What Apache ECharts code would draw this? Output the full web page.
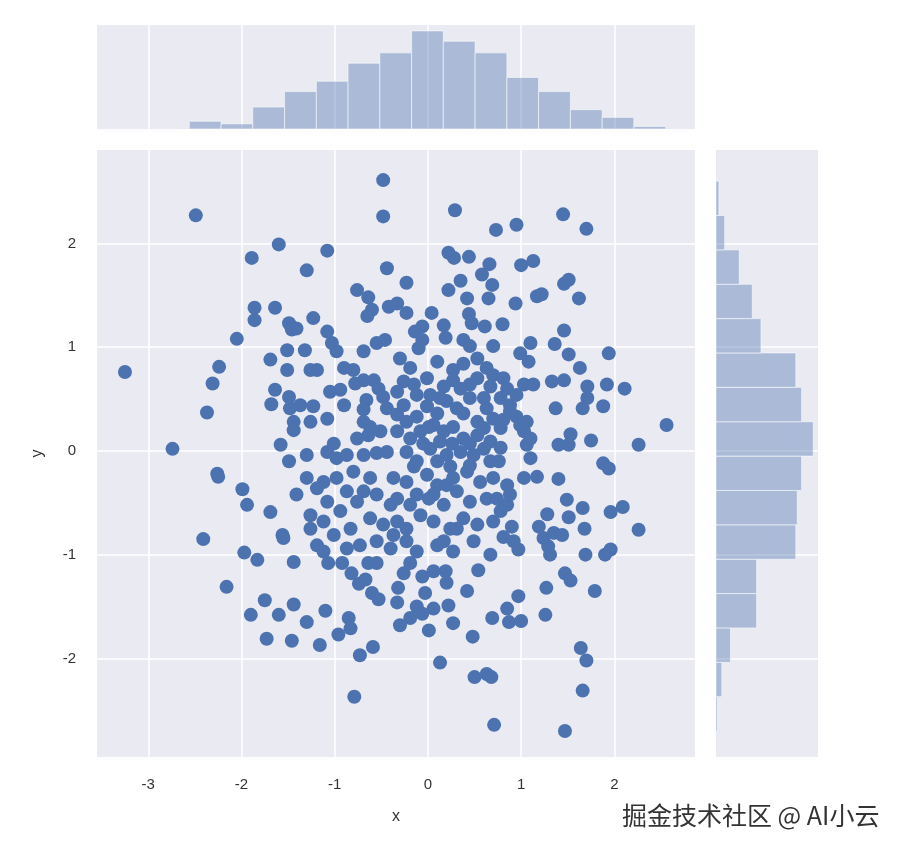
<!DOCTYPE html>
<html><head><meta charset="utf-8">
<script src="https://cdn.jsdelivr.net/npm/echarts@6/dist/echarts.min.js"></script>
<style>html,body{margin:0;padding:0;background:#fff}#c{width:906px;height:854px}</style>
</head><body><div id="c"></div><script>
// scatter points (x, y)
const xs = [
-2.49,-1.60,-1.89,-1.86,-1.64,-1.86,-1.49,-1.46,-2.05,-1.51,
-0.48,-0.48,0.29,0.73,-1.08,-1.30,-0.44,-0.23,-0.76,-0.64,-0.60,-0.65,-0.42,-0.33,-0.23,0.04,0.22,0.28,0.44,0.66,0.58,0.35,0.22,0.42,0.69,0.65,0.44,0.47,0.61,0.17,0.19,-0.06,-0.14,-0.06,-0.10,0.38,0.45,-1.23,-1.41,-1.08,-1.03,-1.32,-0.98,-0.55,-0.46,-0.69,0.70,
1.45,1.70,0.95,1.0,1.13,1.46,1.51,1.62,1.17,1.22,0.94,0.80,1.46,1.10,1.36,0.99,1.94,1.51,
-3.25,-2.24,-2.31,-2.37,-2.74,-2.26,-2.25,-1.99,-1.94,-1.69,-1.56,-1.55,-2.41,-1.97,-1.83,-1.69,-1.51,-1.64,-1.68,-1.49,-1.48,-1.44,-1.44,-1.58,-1.49,-1.41,-1.44,
-1.19,-1.26,-0.90,-0.80,-0.30,-0.19,0.10,0.27,0.38,0.53,0.63,0.70,-0.58,-0.69,
-1.05,-0.94,-0.78,-0.53,-0.48,-0.33,-0.26,-0.15,-0.01,0.025,0.17,0.27,0.35,0.53,0.45,0.67,
-1.37,-1.23,-1.08,-1.26,-0.90,-0.66,-0.69,-0.69,-0.44,-0.33,-0.23,-0.12,-0.01,0.10,0.20,0.31,0.38,0.63,0.53,0.70,
-1.30,-1.01,-0.76,-0.62,-0.64,-0.33,-0.19,-0.08,0.06,0.17,0.27,0.38,0.53,0.67,0.60,
-1.08,-0.98,-0.87,-0.69,-0.55,-0.44,-0.23,-0.12,0.025,0.10,0.20,0.35,0.49,0.67,0.60,
-1.30,-1.12,-0.98,-0.80,-0.62,-0.37,-0.23,-0.01,0.10,0.27,0.42,0.56,0.70,
-1.19,-1.08,-0.87,-0.76,-0.69,-0.55,-0.33,-0.19,0.06,0.17,0.31,0.45,0.63,
-1.26,-1.12,-1.26,-1.01,-0.62,-0.48,-0.33,-0.23,-0.08,0.06,0.24,0.38,0.53,0.70,
-1.19,-1.12,-0.87,-0.73,-0.55,-0.40,-0.23,-0.12,0.10,0.27,0.49,0.67,
-0.26,0.01,0.13,0.26,0.45,-0.05,-0.15,0.24,0.45,0.01,0.20,-0.12,-0.40,-0.51,-0.12,0.13,0.45,0.60,0.31,0.17,-0.37,-0.83,-0.94,
1.08,1.63,0.81,1.03,1.13,1.33,1.46,1.71,1.92,2.11,0.78,0.88,1.71,1.37,1.66,1.88,0.81,0.95,1.06,2.56,1.03,1.53,1.40,1.51,1.75,2.26,0.78,1.06,1.10,0.76,1.88,1.94,1.03,1.17,1.40,0.85,1.49,1.66,2.09,1.96,1.28,1.51,0.85,0.78,0.90,1.19,1.68,2.26,1.35,1.44,1.24,0.81,0.97,1.29,1.69,1.96,1.90,1.31,
0.85,0.95,0.88,0.99,1.10,0.78,0.88,0.74,0.92,
-2.16,-1.75,-1.90,-1.60,-1.44,-1.73,-1.46,
-1.07,-0.92,-0.82,-0.74,-0.67,-0.64,-0.55,-0.60,-0.53,-0.32,-0.33,-0.26,-0.19,-0.06,0.06,0.19,0.20,-0.03,-0.12,-0.06,0.06,0.22,-0.19,-0.30,0.01,0.27,0.42,0.54,0.69,0.48,-1.10,-1.30,-0.85,-0.83,-0.96,-1.16,-0.59,-0.73,0.13,0.50,0.63,0.68,-0.79,0.71,
1.47,1.53,1.27,1.79,0.97,0.85,0.87,1.0,1.26,1.64,1.70,1.66,1.47
];
const ys = [
2.27,1.99,1.86,1.38,1.38,1.26,1.23,1.17,1.08,0.97,
2.61,2.26,2.32,2.13,1.93,1.74,1.76,1.62,1.55,1.48,1.36,1.30,1.39,1.42,1.33,1.33,1.91,1.86,1.87,1.80,1.70,1.64,1.55,1.47,1.60,1.47,1.32,1.23,1.20,1.21,1.09,1.20,1.15,1.07,0.99,1.07,1.01,1.28,1.18,1.15,1.04,0.97,0.96,1.04,1.07,0.96,1.01,
2.28,2.14,2.18,1.79,1.83,1.61,1.65,1.47,1.49,1.51,1.42,1.22,1.16,1.04,1.03,0.94,0.94,0.93,
0.76,0.81,0.65,0.37,0.02,-0.22,-0.25,-0.37,-0.52,-0.59,-0.81,-0.84,-0.85,-0.98,-1.05,0.88,0.78,0.59,0.45,0.52,0.41,0.28,0.20,0.06,-0.10,-0.42,-1.07,
0.78,0.78,0.80,0.78,0.89,0.80,0.86,0.78,0.84,0.89,0.80,0.73,0.68,0.68,
0.57,0.59,0.65,0.60,0.52,0.57,0.67,0.64,0.70,0.54,0.62,0.68,0.60,0.70,0.64,0.62,
0.44,0.43,0.31,0.28,0.44,0.49,0.40,0.28,0.41,0.35,0.28,0.33,0.43,0.36,0.48,0.41,0.36,0.41,0.28,0.31,
-0.04,0.07,0.12,0.23,0.15,0.19,0.12,0.19,0.25,0.19,0.23,0.12,0.15,0.09,0.22,
-0.01,-0.07,-0.04,-0.04,-0.02,-0.01,-0.01,-0.10,0.02,-0.10,-0.04,-0.01,-0.04,-0.10,0.02,
-0.26,-0.30,-0.26,-0.20,-0.26,-0.26,-0.30,-0.23,-0.33,-0.26,-0.20,-0.30,-0.26,
-0.36,-0.49,-0.39,-0.49,-0.39,-0.42,-0.46,-0.52,-0.42,-0.52,-0.39,-0.49,-0.46,
-0.62,-0.68,-0.75,-0.81,-0.65,-0.71,-0.68,-0.75,-0.62,-0.68,-0.75,-0.65,-0.71,-0.68,
-0.91,-0.97,-0.94,-0.91,-0.87,-0.94,-0.87,-0.97,-0.91,-0.97,-0.87,-1.00,
0.44,0.23,0.09,0.07,0.07,0.07,-0.15,-0.15,-0.14,-0.46,-0.33,-0.42,-0.52,0.19,0.54,0.51,0.51,0.51,-0.75,-0.87,-0.81,-0.75,-0.58,
0.86,0.80,0.70,0.64,0.64,0.67,0.68,0.62,0.64,0.60,0.51,0.44,0.51,0.41,0.41,0.43,0.30,0.33,0.28,0.25,0.19,0.16,0.06,0.06,0.10,0.06,0.03,0.06,-0.07,-0.10,-0.12,-0.17,-0.26,-0.25,-0.27,-0.33,-0.47,-0.55,-0.54,-0.59,-0.61,-0.64,-0.52,-0.58,-0.73,-0.73,-0.75,-0.76,-0.79,-0.81,-0.84,-0.83,-0.95,-0.92,-1.00,-0.95,-1.00,-1.00,
0.60,0.54,0.38,0.25,0.12,0.22,-0.42,-0.46,-0.87,
-1.31,-1.44,-1.58,-1.58,-1.48,-1.81,-1.83,
-1.08,-1.08,-1.18,-1.28,-1.24,-1.08,-1.08,-1.37,-1.43,-1.32,-1.46,-1.18,-1.08,-1.21,-1.16,-1.16,-1.27,-1.37,-1.50,-1.57,-1.52,-1.49,-1.61,-1.68,-1.73,-1.66,-1.35,-1.15,-1.61,-1.79,-1.54,-1.65,-1.61,-1.71,-1.77,-1.87,-1.89,-1.97,-2.04,-2.18,-2.15,-2.18,-2.37,-2.64,
-1.18,-1.25,-1.32,-1.35,-1.40,-1.52,-1.65,-1.64,-1.58,-1.90,-2.02,-2.31,-2.70
];
const xTicks = [-3, -2, -1, 0, 1, 2];
const yTicks = [-2, -1, 0, 1, 2];
// marginal histogram of x (top)
const histXEdges = [-2.56,-2.219,-1.879,-1.538,-1.197,-0.857,-0.516,-0.175,0.165,0.506,0.847,1.187,1.528,1.869,2.209,2.55];
const histXCounts = [6,4,17,29,37,51,59,76,68,59,40,29,15,9,2];
// marginal histogram of y (right)
const histYEdges = [-2.70,-2.369,-2.0375,-1.706,-1.375,-1.044,-0.7125,-0.381,-0.05,0.281,0.6125,0.944,1.275,1.606,1.9375,2.269,2.60];
const histYCounts = [1,4,10,28,28,55,56,59,67,59,55,31,25,16,6,2];

const BG = '#eaeaf2', PT = '#4c72b0', BAR = 'rgba(76,114,176,0.4)';
const FONT = '"Liberation Sans", Arial, sans-serif';
const XMIN = -3.55, XMAX = 2.865, YMIN = -2.95, YMAX = 2.90;

const scatterData = xs.map((x, i) => [x, ys[i]]);
const topData = histXCounts.map((c, i) => [histXEdges[i], histXEdges[i + 1], c]);
const rightData = histYCounts.map((c, i) => [histYEdges[i], histYEdges[i + 1], c]);

const chart = echarts.init(document.getElementById('c'), null, {renderer: 'canvas'});
const splitWhite = {show: true, lineStyle: {color: '#ffffff', width: 1.5}};
chart.setOption({
  animation: false,
  backgroundColor: '#ffffff',
  grid: [
    {left: 97, top: 150, width: 598, height: 607, show: true, backgroundColor: BG, borderWidth: 0},
    {left: 97, top: 25, width: 598, height: 104, show: true, backgroundColor: BG, borderWidth: 0},
    {left: 716, top: 150, width: 102, height: 607, show: true, backgroundColor: BG, borderWidth: 0}
  ],
  xAxis: [
    {gridIndex: 0, type: 'value', min: XMIN, max: XMAX, name: 'x', nameLocation: 'middle', nameGap: 52,
     nameTextStyle: {fontFamily: FONT, fontSize: 16, color: '#333'},
     axisLine: {show: false}, axisTick: {show: false, customValues: xTicks},
     axisLabel: {customValues: xTicks, margin: 20, fontFamily: FONT, fontSize: 15, color: '#333'},
     splitLine: splitWhite},
    {gridIndex: 1, type: 'value', min: XMIN, max: XMAX,
     axisLine: {show: false}, axisTick: {show: false, customValues: xTicks},
     axisLabel: {show: false, customValues: xTicks}, splitLine: splitWhite},
    {gridIndex: 2, type: 'value', min: 0, max: 70.3,
     axisLine: {show: false}, axisTick: {show: false}, axisLabel: {show: false}, splitLine: {show: false}}
  ],
  yAxis: [
    {gridIndex: 0, type: 'value', min: YMIN, max: YMAX, name: 'y', nameLocation: 'middle', nameGap: 51,
     nameRotate: 90,
     nameTextStyle: {fontFamily: FONT, fontSize: 16, color: '#333'},
     axisLine: {show: false}, axisTick: {show: false, customValues: yTicks},
     axisLabel: {customValues: yTicks, margin: 21, fontFamily: FONT, fontSize: 15, color: '#333'},
     splitLine: splitWhite},
    {gridIndex: 1, type: 'value', min: 0, max: 80.6,
     axisLine: {show: false}, axisTick: {show: false}, axisLabel: {show: false}, splitLine: {show: false}},
    {gridIndex: 2, type: 'value', min: YMIN, max: YMAX,
     axisLine: {show: false}, axisTick: {show: false, customValues: yTicks},
     axisLabel: {show: false, customValues: yTicks}, splitLine: splitWhite}
  ],
  series: [
    {type: 'scatter', xAxisIndex: 0, yAxisIndex: 0, data: scatterData, symbolSize: 14,
     itemStyle: {color: PT, opacity: 1}, z: 5},
    {type: 'custom', xAxisIndex: 1, yAxisIndex: 1, data: topData, encode: {x: [0, 1], y: 2},
     renderItem: function (params, api) {
       const p0 = api.coord([api.value(0), api.value(2)]);
       const p1 = api.coord([api.value(1), 0]);
       return {type: 'rect', shape: {x: p0[0], y: p0[1], width: p1[0] - p0[0], height: p1[1] - p0[1]},
               style: {fill: BAR, stroke: 'rgba(255,255,255,0.55)', lineWidth: 1}};
     }},
    {type: 'custom', xAxisIndex: 2, yAxisIndex: 2, data: rightData, encode: {y: [0, 1], x: 2},
     renderItem: function (params, api) {
       const p0 = api.coord([0, api.value(1)]);
       const p1 = api.coord([api.value(2), api.value(0)]);
       return {type: 'rect', shape: {x: p0[0], y: p0[1], width: p1[0] - p0[0], height: p1[1] - p0[1]},
               style: {fill: BAR, stroke: 'rgba(255,255,255,0.55)', lineWidth: 1}};
     }}
  ],
  graphic: [
    {type: 'text', left: 622, top: 803, z: 100,
     style: {text: '掘金技术社区 @ AI小云', fill: '#333', font: '25px "Noto Sans CJK SC", sans-serif'}}
  ]
});
</script></body></html>
